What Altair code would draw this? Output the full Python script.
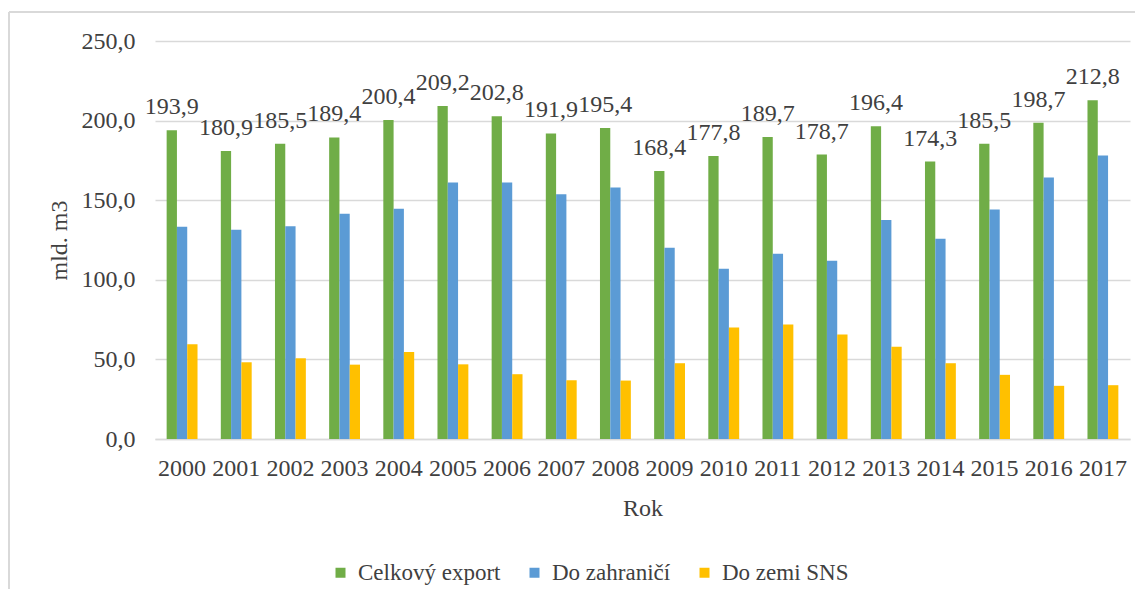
import altair as alt
import pandas as pd

years = [str(y) for y in range(2000, 2018)]
celkovy = [193.9, 180.9, 185.5, 189.4, 200.4, 209.2, 202.8, 191.9, 195.4,
           168.4, 177.8, 189.7, 178.7, 196.4, 174.3, 185.5, 198.7, 212.8]
zahranici = [133.3, 131.4, 133.7, 141.5, 144.6, 161.1, 161.1, 153.8, 158.0,
             120.1, 107.0, 116.4, 112.0, 137.5, 125.8, 144.2, 164.2, 178.0]
sns = [59.5, 48.2, 50.7, 46.7, 54.7, 46.9, 40.7, 36.9, 36.7,
       47.6, 70.1, 72.0, 65.6, 58.0, 47.6, 40.3, 33.4, 33.8]
series = ["Celkový export", "Do zahraničí", "Do zemi SNS"]
colors = ["#70AD47", "#5B9BD5", "#FFC000"]

rows = []
for name, vals in zip(series, [celkovy, zahranici, sns]):
    for y, v in zip(years, vals):
        rows.append({"rok": y, "serie": name, "hodnota": v})
df = pd.DataFrame(rows)

FONT = "Liberation Serif"
TXT = "#404040"

yscale = alt.Scale(domain=[0, 250], nice=False, zero=True)
xscale = alt.Scale(paddingInner=0.43, paddingOuter=0.215)
xoscale = alt.Scale(domain=series, paddingInner=0, paddingOuter=0)

x_enc = alt.X("rok:N", sort=years, scale=xscale,
              axis=alt.Axis(title="Rok", labelAngle=0, ticks=False, tickSize=0,
                            labelPadding=36, labelBaseline="alphabetic",
                            labelFont=FONT, labelFontSize=24, labelColor=TXT,
                            titleFont=FONT, titleFontSize=24, titleColor=TXT,
                            titleFontWeight="normal",
                            titleBaseline="alphabetic", titleY=76,
                            domain=True, domainColor="#d9d9d9", domainWidth=1.5,
                            grid=False))
y_enc = alt.Y("hodnota:Q", scale=yscale,
              axis=alt.Axis(title="mld. m3", values=[0, 50, 100, 150, 200, 250],
                            labelExpr="replace(format(datum.value, '.1f'), '.', ',')",
                            ticks=False, domain=False, labelPadding=20,
                            labelFont=FONT, labelFontSize=24, labelColor=TXT,
                            titleFont=FONT, titleFontSize=24, titleColor=TXT,
                            titleFontWeight="normal",
                            grid=True, gridColor="#d9d9d9", gridWidth=1.5,
                            titleAngle=270, titleX=-89, titleY=199,
                            titleAlign="center", titleBaseline="alphabetic"))

bars = alt.Chart(df).mark_bar().encode(
    x=x_enc,
    xOffset=alt.XOffset("serie:N", sort=series, scale=xoscale),
    y=y_enc,
    color=alt.Color("serie:N", sort=series,
                    scale=alt.Scale(domain=series, range=colors),
                    legend=alt.Legend(title=None, orient="none", direction="horizontal",
                                      legendX=174, legendY=520, symbolType="square",
                                      symbolSize=100, symbolStrokeWidth=0,
                                      labelFontSize=23, labelFont=FONT,
                                      labelColor=TXT, labelOffset=6,
                                      columnPadding=22)),
)

labels = alt.Chart(df).transform_filter(
    alt.datum.serie == "Celkový export"
).transform_calculate(
    lbl="replace(format(datum.hodnota, '.1f'), '.', ',')"
).mark_text(align="center", baseline="alphabetic", dy=-16,
            fontSize=24, font=FONT, color=TXT).encode(
    x=alt.X("rok:N", sort=years, scale=xscale),
    xOffset=alt.XOffset("serie:N", sort=series, scale=xoscale),
    y=alt.Y("hodnota:Q", scale=yscale),
    text=alt.Text("lbl:N"),
)

border_df = pd.DataFrame({"k": [0]})
border_h = alt.Chart(border_df).mark_rule(color="#d9d9d9", strokeWidth=2).encode(
    x=alt.value(-146), x2=alt.value(990), y=alt.value(-29))
border_v = alt.Chart(border_df).mark_rule(color="#d9d9d9", strokeWidth=2).encode(
    x=alt.value(-146), y=alt.value(-29), y2=alt.value(600))

chart = alt.layer(border_h, border_v, bars, labels).properties(
    width=975, height=398,
    autosize=alt.AutoSizeParams(type="none"),
    padding={"left": 147, "top": 33, "right": 5, "bottom": 150},
).configure(background="white").configure_view(stroke=None)

chart.save("out.html", embed_options={"renderer": "svg", "actions": False})
